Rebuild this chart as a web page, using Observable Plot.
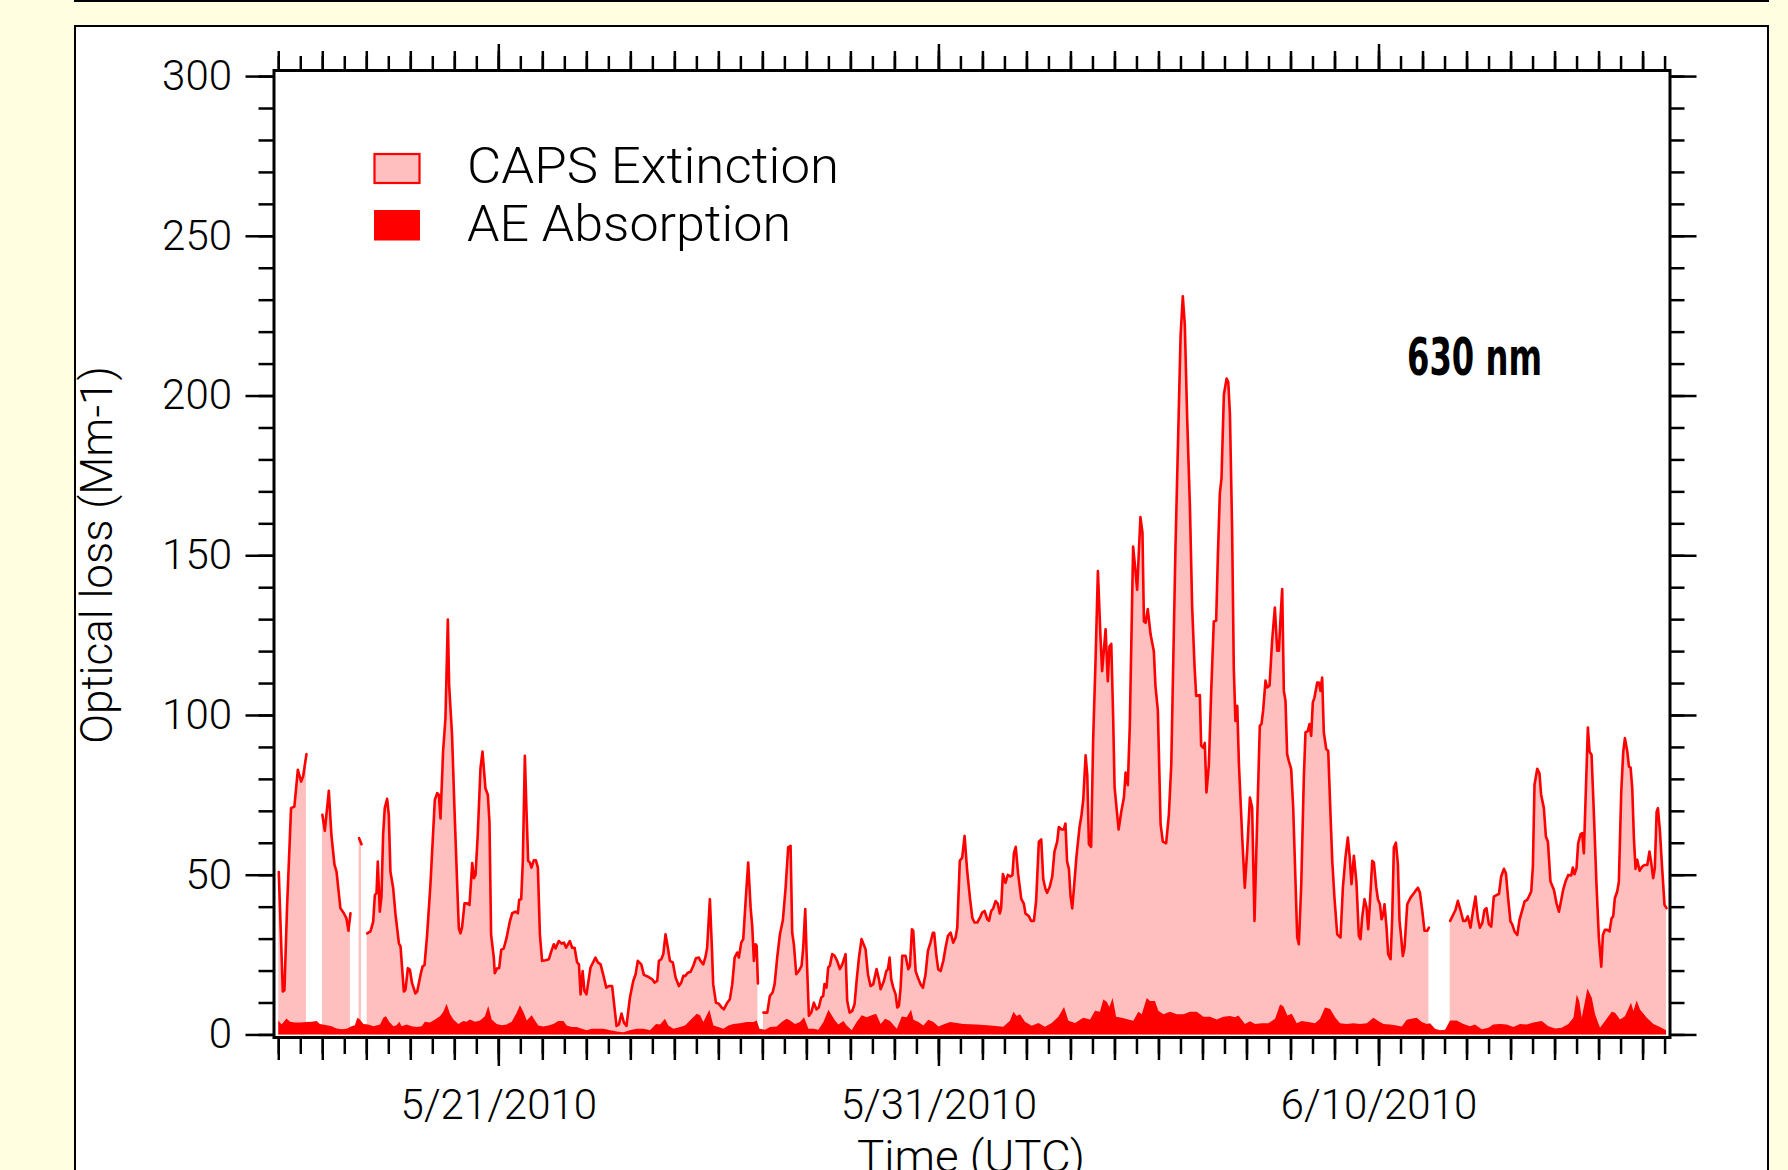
<!DOCTYPE html>
<html>
<head>
<meta charset="utf-8">
<script src="https://cdn.jsdelivr.net/npm/d3@7"></script>
<script src="https://cdn.jsdelivr.net/npm/@observablehq/plot@0.6"></script>
<style>
  html, body { margin: 0; padding: 0; }
  body { width: 1788px; height: 1170px; background: #FFFEE0; position: relative; overflow: hidden; }
  #topline { position: absolute; left: 74px; top: 0; width: 1695px; height: 2px; background: #000; }
  #panel { position: absolute; left: 74px; top: 25px; width: 1695px; height: 1220px; box-sizing: border-box;
           border: 2.5px solid #000; background: #fff; }
  #chart { position: absolute; left: 0; top: 0; }
</style>
</head>
<body>
<div id="topline"></div>
<div id="panel"></div>
<div id="chart"></div>
<script>
// Hours since 2010-05-16 00:00 UTC, value (Mm-1); null = missing data
const capsExtinction = [
  [0,51],[2.2,13.6],[3.1,14],[4.5,39.7],[6.7,71],[8.5,71.5],[10.4,83],[12.2,79.3],[13.3,81],[15.1,87.9],[15.8,null],
  [23.8,68.9],[25.1,63.9],[27.3,76.4],[28.7,62.6],[30.4,53.2],[31.5,51.1],[33.6,39.7],[35.5,38.1],[36.9,36.5],[38,32.6],[39.1,38.1],[39.9,null],
  [43.8,61.6],[45.1,59.7],[45.9,null],
  [48.2,31.8],[50,32.4],[51.5,35.5],[52.4,43.8],[53.3,44.4],[54,54.3],[55.1,38.6],[56,43.3],[56.9,62.6],[57.8,71],[59.1,73.9],[60,68.9],[60.9,51.1],[62.4,45.9],[63.6,38.1],[65.5,28.7],[66.4,27.7],[68.2,13.6],[69.1,14.1],[70.4,20.9],[71.5,20.4],[72.7,16.2],[74.5,13],[75.5,13.6],[77.3,18.8],[78.4,21.4],[79.5,21.9],[80.9,31.3],[82.7,47],[85.1,73.6],[86.4,75.7],[87.3,75.2],[88.2,67.8],[89.6,88.7],[90.9,99.2],[92.2,130],[92.9,109.6],[94.5,93.9],[95.8,71],[97.3,47],[98.2,33.4],[99.1,31.8],[100,33.9],[101.3,41.2],[102.7,41.2],[104,40.7],[105.5,53.8],[106.4,49.1],[107.3,50.1],[108.5,62.6],[110,83.5],[111.1,88.7],[112.7,77.2],[114,75.2],[114.9,66.8],[115.8,31.3],[117.3,24],[117.8,19.3],[119.1,20.9],[120.2,20.9],[121.3,26.6],[122.7,27.1],[124.2,30.3],[126,35.5],[127.3,38.1],[129.1,38.6],[130.4,38.1],[131.1,42.3],[132.2,42.5],[133.1,54.5],[134.2,87.4],[135.1,70.1],[136,54.5],[136.9,54],[137.8,52.4],[139.1,54.7],[140.2,54.7],[141.3,52.4],[142.4,31.5],[143.6,23.2],[145.5,23.4],[147.3,23.7],[148.7,26.3],[150,28.4],[150.9,27.1],[152.7,29.4],[154.2,28.6],[155.5,28.9],[156.7,27.3],[158.7,29.4],[160,27.3],[161.3,27.3],[162.7,22.7],[163.7,22.1],[164.6,12.7],[165.7,20],[166.7,13.8],[167.8,12.7],[170,21.1],[172.7,24.2],[174,22.7],[175.5,22.1],[177.3,18],[178.6,14.8],[180,15.3],[181.8,15.3],[182.7,10.6],[184.2,2.8],[185.5,3.3],[186.9,6.7],[188.2,3.9],[189.6,2.8],[191.5,11.7],[193.3,16.9],[194.6,19],[195.8,23.2],[197.7,22.1],[199.1,18.8],[201.5,18.2],[203.7,17.4],[204.9,16.4],[206.4,16.9],[207.3,23.2],[208.6,23.7],[209.7,25.3],[210.9,31.5],[212.2,27.3],[213.3,23.2],[214.9,22.7],[216.4,18],[218.2,15.3],[219.5,16.4],[220.6,18.5],[221.8,18.5],[223.1,19.5],[224.6,19.8],[226,21.6],[227.5,24],[229.1,24.2],[230,23.2],[231.5,22.1],[232.7,24.4],[233.6,27.3],[235.1,42.5],[236.2,27.3],[236.9,15.9],[238.4,10.1],[240,9.8],[241.5,8.6],[242.7,8],[244.6,10.1],[246,11.2],[247.3,15.9],[248.6,24.2],[250,25.8],[250.9,24.2],[252.2,28.9],[253.3,30],[254.6,42],[256,54],[257.3,40],[258.2,34],[259.1,23.2],[260,28.4],[260.6,27.9],[261.3,16.1],[262,null],
  [264.3,7],[266.4,7],[267.8,12.2],[269.3,13.3],[270.4,15.9],[271.8,24.2],[273.3,31.5],[274.9,35.9],[276.4,46.1],[277.8,58.7],[279.1,59.2],[280,32],[280.9,28.4],[282.2,19],[283.6,20],[285.1,21.6],[286,27.3],[287.1,39.4],[287.8,26.3],[289.1,6],[290.4,7],[291.8,10.1],[293.3,8],[294.5,8.6],[295.8,11.7],[296.9,12.2],[297.6,15.9],[298.7,14.8],[299.6,21.1],[300.5,21.6],[301.8,25.3],[303.1,24.8],[304.5,23.2],[306,20.6],[307.3,22.1],[309.1,25.3],[310,10.6],[311.3,7],[312.7,7.5],[314,9.6],[315.1,16.9],[316.4,24.2],[317.8,30],[320,26.8],[321.3,19],[322.7,15.3],[324.2,15.9],[326,20.6],[327.3,17.4],[328.2,14.3],[330,16.9],[331.3,20],[332.2,20.6],[333.1,24.2],[334,17.4],[335.1,14.8],[336.4,12.7],[337.3,8.6],[338.2,9.1],[339.1,14.8],[340,24.8],[341.8,24.8],[343.3,20.6],[344.2,21.6],[345.3,33.1],[346,32.6],[347.3,20],[348.5,18],[350,15.9],[351.3,14.8],[352.7,19],[354,26.3],[355.4,28.9],[356.7,32],[357.4,32],[358.5,25.3],[359.6,20.6],[360.9,20],[362.4,23.2],[363.6,27.3],[364.9,31],[366.4,32],[367.8,28.9],[369.1,30.5],[370,33.6],[371.4,54.5],[372.7,55.5],[374,62.3],[375.4,51.4],[376.9,43],[378.2,36.7],[379.4,35.2],[380.9,35.2],[382.4,36.7],[383.6,38.3],[384.9,38.8],[386.4,36.2],[387.3,35.7],[388.5,38.8],[389.6,39.6],[390.9,41.9],[392.1,41.1],[393.2,38],[393.9,39.6],[394.9,50.4],[396.3,47.6],[397.6,50.1],[399,49.6],[400.1,50.1],[400.9,56.9],[401.9,58.9],[403.2,50.4],[404.9,42.6],[406.3,41.1],[407.2,38],[409,37.2],[410.3,35.7],[411.8,35.7],[413,41.9],[414.5,60.5],[415.8,61.2],[416.9,48.8],[418.1,45.7],[419,44.5],[420.5,46.5],[421.8,49.6],[423,57.4],[424.5,60.5],[425.4,65.1],[426.9,64.3],[428.1,64.3],[429,66.2],[429.9,54.3],[430.9,51.9],[431.8,43.4],[432.7,39.6],[433.6,45.7],[435,55.8],[436.7,65.1],[437.8,69],[438.7,73.6],[440,87.5],[440.9,81.4],[441.8,59.7],[443,58.9],[444.1,92.2],[445.4,117],[446.7,145.2],[448.1,124.7],[449,113.9],[450.9,127],[452.1,110.7],[453,121.6],[454,122.4],[455,99.9],[455.8,77.5],[458,64.3],[459.4,69.7],[460.9,74.4],[461.8,82.1],[463,78.2],[464.1,96.8],[465.9,152.9],[467,146.4],[468.1,139.4],[469.9,162.1],[471,157.2],[471.8,129.4],[472.7,129],[473.9,133.3],[475.4,125.5],[477.2,120.1],[478.1,109.2],[479.4,101.5],[480.9,65.9],[482.1,60.5],[483.9,60],[485.4,69],[486.7,84.5],[487.8,117],[489,152.6],[490.5,188.2],[491.8,219.1],[493,231.2],[494.1,222.2],[495.4,192.8],[496.9,164.9],[498.1,134],[499.4,115.4],[500.3,106.1],[502.3,106.4],[503,90.6],[504.1,89.9],[505,91.4],[505.9,75.9],[507.2,84.5],[508.5,107.7],[509.9,129.4],[511.2,129.7],[512.1,149.5],[513.2,169.6],[514.1,174.2],[515.4,200.5],[516.9,205.5],[517.8,204.4],[518.7,194.3],[519.9,158],[520.8,115],[521.7,98.3],[522.7,103],[523.6,84.8],[525.4,61.8],[526.8,46.1],[528.1,57.6],[529.6,74.3],[530.8,71.2],[532.1,35.7],[533.2,59.7],[535,96.8],[535.9,97.3],[536.8,101.5],[538.1,110.9],[539,108.8],[540.3,109.3],[541.7,123.4],[543.2,133.8],[544.5,120.3],[545.4,120.3],[546.3,130.7],[547.2,139.6],[548.1,107.7],[549,104.6],[549.9,87.9],[550.8,85.8],[552.1,83.2],[553.2,71.2],[554.5,47.2],[555.4,30.5],[556.3,28.4],[557.6,47.2],[559,80.6],[559.9,94.7],[561.2,95.2],[562.1,97.3],[563,93.6],[563.9,104.1],[564.8,105.6],[566.3,110.3],[567.2,110.3],[568.1,107.7],[569,111.9],[569.9,94.7],[571.2,89.5],[572.3,88.9],[573.6,68.1],[574.5,54.5],[575.7,43],[577.2,31.5],[579,30.5],[580.3,46.1],[581.7,55.5],[583,61.8],[584.1,55],[585,47.2],[586.3,56.1],[587.7,47.7],[589,31],[589.9,30],[590.8,36.7],[592.1,42.5],[593.2,39.9],[594.1,33.1],[595,40.9],[596.3,54.5],[597.2,54],[598.5,46.1],[599.4,42.5],[600.5,40.9],[601.4,36.2],[602.3,37.8],[603,40.9],[604.1,33.6],[605,25.3],[606.3,23.7],[607.2,36.7],[608.1,58.7],[609.2,60.2],[610.3,53.4],[611.2,35.7],[612.1,30.5],[613,24.7],[613.9,27.3],[615.4,40.9],[617.2,43],[618.7,44.1],[619.9,45.1],[621.2,46.1],[622.3,44.6],[623.6,38.8],[624.8,32.6],[626.3,32.6],[627.2,33.6],[628,null],
  [638.8,35.7],[640.4,37.6],[641.7,39.1],[643,42],[644.4,39.1],[645.9,35.7],[647.2,35.7],[648.4,37.1],[649.9,33.6],[651.2,38.6],[652.6,43.3],[653.9,36.5],[655,33.6],[656.3,35],[657.5,39.1],[658.6,39.7],[659.9,34.7],[661.2,33.9],[662.6,43.3],[664.1,43.8],[665.4,44.1],[666.6,49.6],[668.1,52],[669.2,50.6],[670.4,42.8],[671.7,35.5],[672.6,34.7],[673.9,32.4],[675.4,31.3],[676.6,36],[678.1,39.1],[679.4,41.8],[680.8,42.3],[681.7,43.3],[683,44.9],[683.9,52.7],[684.8,78.3],[686.3,83.3],[687.5,81.9],[688.4,75.2],[689.9,71],[691,62.1],[692.1,60.5],[693.5,48],[695.4,45.4],[696.8,41.2],[698.1,38.6],[699.4,42.3],[700.4,45.4],[701.7,48],[703.2,50.1],[704.8,49.9],[705.7,52.4],[706.6,50.3],[707.7,52.2],[708.6,60],[709.9,62.8],[710.8,63.2],[711.7,56.9],[712.6,73.1],[713.9,96.2],[714.8,88.7],[715.9,87.7],[717.2,68.9],[718.6,47],[719.9,30.3],[721.2,21.4],[722.1,31.3],[723.2,32.9],[724.4,32.9],[725.7,32.4],[726.8,36.5],[727.7,37.1],[728.6,42.8],[729.9,44.9],[730.8,48],[732.1,76.2],[733.2,88.7],[734.1,92.9],[735.4,88.7],[736.3,84],[737.2,83.7],[738.1,77.2],[739,61.6],[739.9,52],[740.8,54.8],[742.1,51.4],[743.5,52.7],[744.8,53.2],[746.3,53.2],[747.5,57.4],[748.6,53.2],[749.5,49.1],[750.4,52.2],[751.4,69.9],[752.1,71],[753.2,63.7],[754.4,52.2],[755.7,40.7],[756.8,39.7]
];

const aeAbsorption = [
  [0,4.4],[1.8,3.1],[4.5,5],[6.4,4],[9.1,3.7],[11.8,3.7],[15.5,3.9],[18.2,4],[20.9,4.2],[22.7,3.3],[26.4,2.9],[29.1,2.6],[31.8,1.9],[34.5,1.6],[37.3,1.8],[40,2.6],[41.8,2.9],[43.1,5.2],[44.5,4.7],[46.4,3.3],[49.1,3.1],[51.8,2.6],[55.5,3.1],[57.3,5.2],[58.7,5.7],[60.5,4],[62.7,2.6],[64.5,2.9],[66,4],[67.3,2.6],[70,3.1],[72.7,2.6],[75.5,2.3],[78.2,2.6],[80,4],[82.7,3.7],[85.5,4.7],[88.2,5.7],[90,7.1],[91.8,9.6],[93.6,6.5],[95.5,4.7],[98.2,3.3],[100.9,4.2],[102.7,4],[104.5,4.7],[107.3,4],[110,4.4],[112.7,5.7],[114.5,8.9],[116.4,4.7],[119.1,3.3],[121.8,2.9],[124.5,3.1],[127.3,4],[130,6.8],[131.8,9.1],[133.7,7],[135.5,4.4],[138.2,6],[140,4.4],[141.8,2.8],[144.6,2.5],[147.3,2.8],[150,3.3],[152.7,4.2],[155.5,4.2],[157.3,2.8],[160,2.3],[162.7,2.3],[165.5,1.8],[168.2,1.3],[170.9,1.8],[173.7,1.8],[177.3,1.8],[180.9,1.3],[184.6,0.9],[188.2,0.7],[191.8,1.3],[195.5,1.8],[199.1,1.8],[202.7,1.3],[206,3.3],[208.2,3.1],[210.9,4.9],[212.7,2.8],[215.5,1.8],[219.1,2.3],[221.8,2.8],[225.5,4.9],[228.2,6.5],[230,6],[231.8,3.9],[235.1,7.7],[237.3,2.8],[240,2.3],[242.7,1.8],[245.5,2.8],[248.2,3.3],[251.8,3.5],[255.5,3.9],[259.1,3.9],[260.9,4.4],[262.4,1.8],[265.4,1.5],[268.2,2.3],[271.8,2.5],[274.5,3.9],[277.3,4.9],[279.1,4.4],[281.8,3.3],[284.5,3.9],[286.7,5.4],[289.1,1.8],[291.8,1.8],[294.5,1.5],[297.3,3.9],[300,7.7],[301.8,6],[303.6,4.4],[305.4,3.1],[308.2,4.2],[310,2.8],[312.7,1.3],[315.4,3.9],[318.2,6],[320.9,5.4],[323.6,6],[326,6.5],[328.5,3.3],[330.9,4.9],[333.6,4.2],[337.3,1.8],[340,5.6],[342.7,5.4],[345.1,7.7],[346.4,4.6],[349.1,3.9],[351.8,2.8],[354.5,4.6],[357.3,3.9],[360,2.5],[362.7,3.1],[366.4,3.9],[373.6,3.3],[380.9,3.1],[388.2,2.8],[395.4,2.4],[399,4.3],[400.9,7.1],[402.7,5.8],[404.5,6.3],[407.2,4],[410.9,2.7],[414.5,3.6],[418.1,2.4],[421.8,3.6],[425.4,5.5],[428.5,8.6],[430.9,4.3],[434.5,3.6],[439,5.2],[442.7,4.7],[445.4,7.4],[448.1,7.1],[449.9,10.9],[451.8,10.2],[453.2,8.6],[455,11.4],[456.9,5.5],[460,5.2],[463.6,4.7],[466.3,4.3],[469,7.1],[470.9,6.3],[473.6,11.4],[475.4,10.5],[478.1,10.5],[479.9,7.4],[482.7,6.3],[486.3,7.1],[490,6.3],[493.6,6.3],[497.2,7.1],[500.9,7.1],[504.5,5.5],[508.1,5.5],[511.8,4.7],[515.4,5.5],[519,5.8],[521.7,5.4],[523.6,5.9],[527.2,3.3],[529.9,4.1],[532.7,3.3],[536.3,3.5],[539.9,3.5],[543.6,4.9],[546.3,9.4],[548.1,8.8],[550.3,5.9],[552.7,6.5],[555.4,3.5],[558.1,4.2],[561.7,3.9],[565.4,3.5],[568.1,4.9],[570.8,8.4],[573.6,8],[576.3,5.4],[579,3.5],[582.7,3.3],[586.3,3.5],[589.9,3.3],[593.6,3.5],[597.2,5.2],[599.9,4.2],[602.7,3.3],[606.3,3.1],[609.9,2.8],[612.7,2.5],[615.4,4.6],[618.1,4.9],[620.8,5.2],[623.6,3.9],[626.3,3.3],[628.1,3.5],[630.8,1.8],[633.6,1.3],[636.3,1.5],[639,4.4],[642.6,4.4],[646.3,3.3],[649.9,2.6],[652.6,3.1],[656.3,1.6],[659.9,2.1],[662.6,3.1],[666.3,3.3],[669.9,3.1],[673.5,2.3],[677.2,3.3],[680.8,3.1],[684.4,3.7],[689,4.2],[692.6,2.6],[696.3,1.9],[699.9,2.1],[703.5,3.3],[706.3,5.2],[708.1,12.5],[709.5,10.4],[710.8,5.2],[712.6,10.4],[713.9,14.4],[716.3,11.5],[718.1,6.3],[720.8,2.1],[723.5,4.2],[727.2,7.1],[729,6.8],[731.7,4.7],[734.4,5.7],[737.7,9.9],[739,7.3],[740.8,10.6],[742.6,7.8],[746.3,5.2],[749.9,3.3],[753.5,2.3],[756.8,1.3]
];

const seriesNames = ["CAPS Extinction", "AE Absorption"];
const xTickLabels = ["5/21/2010", "5/31/2010", "6/10/2010"];
const xTickDates = ["2010-05-21T00:00Z", "2010-05-31T00:00Z", "2010-06-10T00:00Z"].map(s => new Date(s));
const yMajorTicks = [0, 50, 100, 150, 200, 250, 300];
const yMinorTicks = d3.range(0, 301, 10);
const annotation = "630 nm";
const xTitle = "Time (UTC)";
const yTitle = "Optical loss (Mm-1)";

const START = Date.UTC(2010, 4, 16);
const toTime = h => new Date(START + h * 3600e3);

const halfDayTicks = d3.utcHour.every(12).range(new Date("2010-05-16T00:00Z"), new Date("2010-06-16T12:01Z"));
const dayTicks = d3.utcDay.range(new Date("2010-05-16T00:00Z"), new Date("2010-06-16T01:00Z"));
const labelOf = new Map(xTickDates.map((d, i) => [+d, xTickLabels[i]]));

const FONT = "Roboto, 'Open Sans', 'Liberation Sans', sans-serif";
const blank = () => "";
const common = {label: null, stroke: "black", strokeWidth: 2.5};

const chart = Plot.plot({
  width: 1788,
  height: 1170,
  marginLeft: 273.5,
  marginRight: 118.5,
  marginTop: 70,
  marginBottom: 133,
  style: {background: "transparent", fontFamily: FONT, fontWeight: 300, fontSize: "42px", color: "black"},
  x: {type: "utc", domain: [new Date("2010-05-15T21:24Z"), new Date("2010-06-16T14:41Z")], axis: null},
  y: {domain: [-0.8, 301.9], axis: null},
  marks: [
    Plot.areaY(capsExtinction, {x: d => toTime(d[0]), y1: 0, y2: d => d[1], fill: "#FFBFBF", curve: "linear"}),
    Plot.areaY(aeAbsorption, {x: d => toTime(d[0]), y1: 0, y2: d => d[1], fill: "#FF0000", curve: "linear"}),
    Plot.lineY(capsExtinction, {x: d => toTime(d[0]), y: d => d[1], stroke: "#FF0000", strokeWidth: 2.6, curve: "linear", strokeLinejoin: "round"}),
    // bottom axis
    Plot.axisX(halfDayTicks, {...common, anchor: "bottom", tickSize: 17, tickFormat: blank}),
    Plot.axisX(dayTicks, {...common, anchor: "bottom", tickSize: 23, tickFormat: blank}),
    Plot.axisX(xTickDates, {...common, anchor: "bottom", tickSize: 29, tickPadding: 23, fontSize: 42, tickFormat: d => labelOf.get(+d)}),
    // top axis
    Plot.axisX(halfDayTicks, {...common, anchor: "top", tickSize: 15, tickFormat: blank}),
    Plot.axisX(dayTicks, {...common, anchor: "top", tickSize: 20, tickFormat: blank}),
    Plot.axisX(xTickDates, {...common, anchor: "top", tickSize: 27, tickFormat: blank}),
    // left axis
    Plot.axisY(yMinorTicks, {...common, anchor: "left", tickSize: 15, tickFormat: blank}),
    Plot.axisY(yMajorTicks, {...common, anchor: "left", tickSize: 28, tickPadding: 14, fontSize: 42, tickFormat: d => String(d)}),
    // right axis
    Plot.axisY(yMinorTicks, {...common, anchor: "right", tickSize: 14, tickFormat: blank}),
    Plot.axisY(yMajorTicks, {...common, anchor: "right", tickSize: 26, tickFormat: blank}),
    Plot.frame({stroke: "black", strokeWidth: 3})
  ]
});

document.getElementById("chart").appendChild(chart);

const svg = d3.select(chart);
const g = svg.append("g").attr("font-family", FONT).attr("font-weight", 300)
  .attr("fill", "black").attr("text-anchor", "start");
// legend
g.append("rect").attr("x", 374.5).attr("y", 154).attr("width", 45).attr("height", 29)
  .attr("fill", "#FFBFBF").attr("stroke", "#FF0000").attr("stroke-width", 2.2);
g.append("rect").attr("x", 374).attr("y", 210).attr("width", 46).attr("height", 30.5).attr("fill", "#FF0000");
g.append("text").attr("x", 467).attr("y", 183).attr("font-size", 50).attr("text-anchor", "start")
  .attr("textLength", 372).attr("lengthAdjust", "spacingAndGlyphs").text(seriesNames[0]);
g.append("text").attr("x", 467).attr("y", 241).attr("font-size", 50).attr("text-anchor", "start")
  .attr("textLength", 324).attr("lengthAdjust", "spacingAndGlyphs").text(seriesNames[1]);
// annotation
g.append("text").attr("x", 1407).attr("y", 375).attr("font-size", 52).attr("font-weight", 700)
  .attr("text-anchor", "start")
  .attr("font-family", "'Liberation Sans Narrow', 'DejaVu Sans Condensed', 'Liberation Sans', sans-serif")
  .attr("textLength", 135).attr("lengthAdjust", "spacingAndGlyphs").text(annotation);
// axis titles
g.append("text").attr("x", 971).attr("y", 1172).attr("font-size", 44).attr("text-anchor", "middle")
  .attr("textLength", 228).attr("lengthAdjust", "spacingAndGlyphs").text(xTitle);
g.append("text").attr("transform", "translate(112,555) rotate(-90)").attr("font-size", 44)
  .attr("text-anchor", "middle").text(yTitle);
</script>
</body>
</html>
